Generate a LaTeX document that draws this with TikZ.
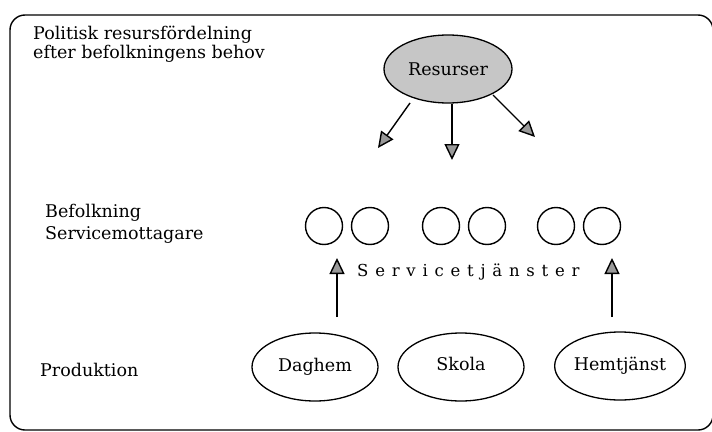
\documentclass[tikz,border=0pt]{standalone}
\usepackage{fontspec}
\setmainfont{DejaVu Serif}
\usetikzlibrary{arrows.meta,shapes.geometric}

\begin{document}
\begin{tikzpicture}[x=1pt,y=-1pt,
  txt/.style={font=\fontsize{17.5}{18.5}\selectfont},
  lbl/.style={txt, align=left, anchor=west, inner sep=0pt},
  unit/.style={ellipse, draw, line width=1.3pt, minimum width=126pt,
    minimum height=68pt, inner sep=0pt, txt},
  person/.style={circle, draw, line width=1.4pt, minimum size=37pt, inner sep=0pt},
  flow/.style={line width=1.4pt, -{Triangle[length=16pt,width=15pt,fill=gray!80]}}
]
\useasboundingbox (0,0) rectangle (712,431);

% outer frame
\draw[line width=1.4pt, rounded corners=15pt] (10,15) rectangle (713,430);

% row labels
\node[lbl] (pol) at (33,44) {Politisk resursfördelning\\efter befolkningens behov};
\node[lbl, font=\fontsize{17.5}{22}\selectfont] (bef) at (45,224) {Befolkning\\Servicemottagare};
\node[lbl] (prod) at (40,370) {Produktion};

% resources and their distribution
\node[unit, fill=gray!45, minimum width=128pt] (res) at (448,69) {Resurser};
\coordinate (d1) at (378,148);
\coordinate (d2) at (452,160);
\coordinate (d3) at (535,137);
\coordinate (r1) at (410,103);
\coordinate (r2) at (452,104);
\coordinate (r3) at (493,95);
\draw[flow] (r1) -- (d1);
\draw[flow] (r2) -- (d2);
\draw[flow] (r3) -- (d3);

% population: pairs of service recipients
\node[person] (p1) at (324,226) {};
\node[person] (p2) at (370,226) {};
\node[person] (p3) at (441,226) {};
\node[person] (p4) at (487,226) {};
\node[person] (p5) at (556,226) {};
\node[person] (p6) at (602,226) {};

\node[inner sep=0pt, anchor=west, font=\fontsize{16.5}{18}\selectfont] (svc) at (357,272)
  {\addfontfeature{LetterSpace=41}Servicetjänster};

% production units
\node[unit] (dag) at (315,367) {Daghem};
\node[unit] (sko) at (461,367) {\raisebox{6pt}{Skola}};
\node[unit] (hem) at (620,366) {Hemtjänst};

% services delivered upwards
\coordinate (u1) at (337,317);
\coordinate (t1) at (337,258);
\coordinate (u2) at (612,317);
\coordinate (t2) at (612,258);
\draw[flow] (u1) -- (t1);
\draw[flow] (u2) -- (t2);
\end{tikzpicture}
\end{document}
